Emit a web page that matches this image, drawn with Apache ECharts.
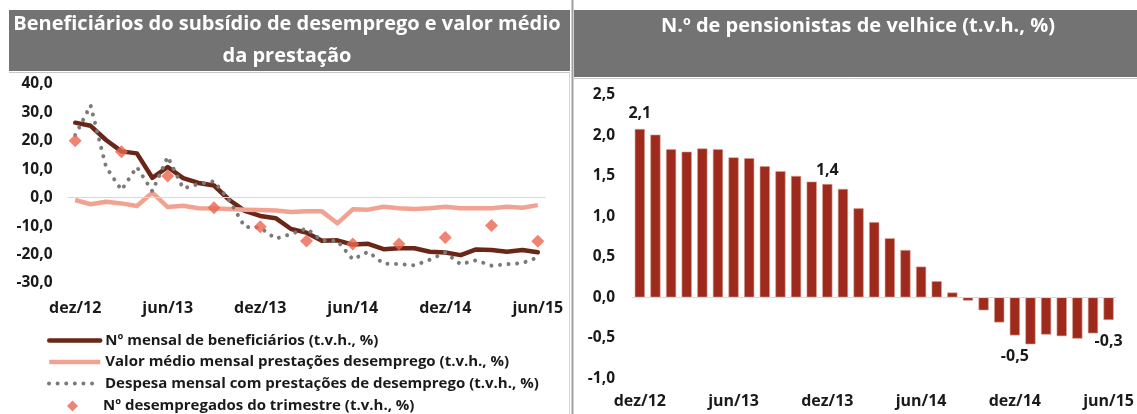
<!DOCTYPE html>
<html>
<head>
<meta charset="utf-8">
<script src="https://cdn.jsdelivr.net/npm/echarts@6/dist/echarts.min.js"></script>
<style>
  html, body { margin: 0; padding: 0; background: #ffffff; }
  #chart { width: 1137px; height: 414px; }
</style>
</head>
<body>
<div id="chart"></div>
<script>
// ---------- DATA ----------
const months = [
  'dez/12','jan/13','fev/13','mar/13','abr/13','mai/13','jun/13','jul/13','ago/13','set/13','out/13','nov/13',
  'dez/13','jan/14','fev/14','mar/14','abr/14','mai/14','jun/14','jul/14','ago/14','set/14','out/14','nov/14',
  'dez/14','jan/15','fev/15','mar/15','abr/15','mai/15','jun/15'
];
const beneficiarios = [
  26.4, 25.3, 20.3, 16.3, 15.6, 7.0, 10.8, 6.9, 5.2, 4.3, -0.8, -4.6,
  -6.4, -7.2, -11.0, -12.3, -15.1, -15.0, -16.5, -16.2, -18.1, -17.8, -17.8, -19.0,
  -19.3, -20.2, -18.2, -18.4, -19.0, -18.4, -19.2
];
const valorMedio = [
  -0.8, -2.3, -1.4, -2.0, -2.9, 1.8, -3.3, -2.8, -3.7, -3.8, -4.0, -4.2,
  -4.3, -4.5, -5.0, -4.8, -4.8, -9.0, -4.1, -4.2, -3.2, -3.7, -4.0, -3.7,
  -3.2, -3.7, -3.7, -3.7, -3.2, -3.5, -2.6
];
const despesa = [
  22.0, 32.5, 10.8, 2.7, 10.8, 2.3, 14.4, 3.3, 4.8, 5.8, -1.0, -10.3,
  -10.5, -14.4, -12.8, -10.8, -15.1, -15.1, -21.7, -19.0, -23.2, -23.3, -23.8, -21.8,
  -19.3, -23.4, -22.0, -23.9, -23.4, -23.0, -21.0
];
const desempregados = [
  20.0, null, null, 16.2, null, null, 7.6, null, null, -3.5, null, null,
  -10.2, null, null, -15.2, null, null, -16.3, null, null, -16.3, null, null,
  -14.0, null, null, -9.8, null, null, -15.3
];
const pensionistas = [
  2.08, 2.01, 1.83, 1.80, 1.84, 1.83, 1.73, 1.72, 1.62, 1.56, 1.50, 1.43,
  1.40, 1.34, 1.10, 0.93, 0.73, 0.585, 0.38, 0.20, 0.06, -0.04, -0.16, -0.31,
  -0.47, -0.58, -0.46, -0.48, -0.51, -0.445, -0.28
];
const labeledBars = [0, 12, 24, 30];

const seriesNames = [
  'Nº mensal de beneficiários (t.v.h., %)',
  'Valor médio mensal prestações desemprego (t.v.h., %)',
  'Despesa mensal com prestações de desemprego (t.v.h., %)',
  'Nº desempregados do trimestre (t.v.h., %)'
];
const leftTitle1 = 'Beneficiários do subsídio de desemprego e valor médio';
const leftTitle2 = 'da prestação';
const rightTitle = 'N.º de pensionistas de velhice (t.v.h., %)';

// ---------- STYLE ----------
const FONT = '"Open Sans", "Noto Sans", sans-serif';
const TXT = '#1a1a1a';
const C_BEN = '#6a2617', C_VAL = '#f2a291', C_DES = '#7a7a7a', C_DMP = '#e8674f', C_BAR = '#9d2a1c';
const fmt = v => v.toFixed(1).replace('.', ',');
const labelDist = {0: 8, 12: 6, 24: 13, 30: 13};

const lineStyles = [
  { color: C_BEN, width: 4.5, cap: 'round', join: 'round' },
  { color: C_VAL, width: 4.5, join: 'round' },
  { color: C_DES, width: 4, type: [0.01, 8.6], cap: 'round' }
];

const barData = pensionistas.map((v, i) => {
  if (labeledBars.indexOf(i) >= 0) {
    return {
      value: v,
      label: {
        show: true,
        position: v >= 0 ? 'top' : 'bottom',
        distance: labelDist[i],
        formatter: p => fmt(p.value),
        fontFamily: FONT, fontWeight: 'bold', fontSize: 16, color: TXT
      }
    };
  }
  return v;
});

const zeroLine = color => ({
  symbol: 'none', silent: true, animation: false,
  label: { show: false },
  lineStyle: { color: color, type: 'solid', width: 1 },
  data: [{ yAxis: 0 }]
});

const legendRowCenters = [340, 361.5, 383, 404];
const legends = seriesNames.map((name, i) => {
  const isScatter = i === 3;
  const h = isScatter ? 11 : 14;
  const w = isScatter ? 11 : 51;
  return {
    orient: 'vertical',
    padding: 0,
    left: isScatter ? 67 : 47,
    top: legendRowCenters[i] - h / 2,
    itemWidth: w, itemHeight: h, itemGap: 0,
    selectedMode: false,
    textStyle: {
      fontFamily: FONT, fontWeight: 'bold', fontSize: 15, color: TXT,
      padding: isScatter ? [0, 0, 0, 20] : 0
    },
    data: [isScatter
      ? { name: name, icon: 'diamond', itemStyle: { color: C_DMP } }
      : { name: name, itemStyle: { opacity: 0 }, lineStyle: lineStyles[i] }]
  };
});

const chart = echarts.init(document.getElementById('chart'), null, { renderer: 'canvas' });

const option = {
  animation: false,
  backgroundColor: '#ffffff',
  textStyle: { fontFamily: FONT },
  graphic: [
    { type: 'rect', shape: { x: 9, y: 10, width: 561, height: 61 }, style: { fill: '#737373' }, z: -1 },
    { type: 'rect', shape: { x: 574, y: 10, width: 563, height: 67 }, style: { fill: '#737373' }, z: -1 },
    { type: 'line', shape: { x1: 9, y1: 72.5, x2: 569, y2: 72.5 }, style: { stroke: '#c8c8c8', lineWidth: 1 } },
    { type: 'line', shape: { x1: 574, y1: 78.5, x2: 1137, y2: 78.5 }, style: { stroke: '#c8c8c8', lineWidth: 1 } },
    { type: 'line', shape: { x1: 569.5, y1: 72, x2: 569.5, y2: 414 }, style: { stroke: '#d4d4d4', lineWidth: 1 } },
    { type: 'line', shape: { x1: 572.5, y1: 0, x2: 572.5, y2: 414 }, style: { stroke: '#a0a0a0', lineWidth: 2 } },
    { type: 'text', x: 287, y: 24, style: { text: leftTitle1, fill: '#ffffff', font: 'bold 20px ' + FONT, align: 'center', verticalAlign: 'middle' } },
    { type: 'text', x: 287, y: 56, style: { text: leftTitle2, fill: '#ffffff', font: 'bold 20px ' + FONT, align: 'center', verticalAlign: 'middle' } },
    { type: 'text', x: 858, y: 26, style: { text: rightTitle, fill: '#ffffff', font: 'bold 20px ' + FONT, align: 'center', verticalAlign: 'middle' } }
  ],
  legend: legends,
  grid: [
    { left: 67.5, right: 591.5, top: 84, bottom: 131 },
    { left: 632, right: 20.5, top: 95, bottom: 35.7 }
  ],
  xAxis: [
    {
      gridIndex: 0, type: 'category', data: months, boundaryGap: true,
      axisLine: { show: false }, axisTick: { show: false },
      axisLabel: { interval: 5, margin: 17, fontFamily: FONT, fontWeight: 'bold', fontSize: 16, color: TXT }
    },
    {
      gridIndex: 1, type: 'category', data: months, boundaryGap: true,
      axisLine: { show: false }, axisTick: { show: false },
      axisLabel: { interval: 5, margin: 15, fontFamily: FONT, fontWeight: 'bold', fontSize: 16, color: TXT }
    }
  ],
  yAxis: [
    {
      gridIndex: 0, type: 'value', min: -30, max: 40, interval: 10,
      axisLine: { show: false }, axisTick: { show: false }, splitLine: { show: false },
      axisLabel: { margin: 15, formatter: v => fmt(v), fontFamily: FONT, fontWeight: 'bold', fontSize: 15.5, color: TXT }
    },
    {
      gridIndex: 1, type: 'value', min: -1, max: 2.5, interval: 0.5,
      axisLine: { show: false }, axisTick: { show: false }, splitLine: { show: false },
      axisLabel: { margin: 17, formatter: v => fmt(v), fontFamily: FONT, fontWeight: 'bold', fontSize: 15.5, color: TXT }
    }
  ],
  series: [
    {
      name: seriesNames[0], type: 'line', xAxisIndex: 0, yAxisIndex: 0,
      data: beneficiarios, symbol: 'none', z: 3,
      lineStyle: lineStyles[0], itemStyle: { color: C_BEN },
      markLine: zeroLine('#d9d9d9')
    },
    {
      name: seriesNames[1], type: 'line', xAxisIndex: 0, yAxisIndex: 0,
      data: valorMedio, symbol: 'none', z: 3,
      lineStyle: lineStyles[1], itemStyle: { color: C_VAL }
    },
    {
      name: seriesNames[2], type: 'line', xAxisIndex: 0, yAxisIndex: 0,
      data: despesa, symbol: 'none', z: 4,
      lineStyle: lineStyles[2], itemStyle: { color: C_DES }
    },
    {
      name: seriesNames[3], type: 'scatter', xAxisIndex: 0, yAxisIndex: 0,
      data: desempregados, symbol: 'diamond', symbolSize: 13, z: 5,
      itemStyle: { color: C_DMP }
    },
    {
      name: 'pensionistas', type: 'bar', xAxisIndex: 1, yAxisIndex: 1,
      data: barData, barCategoryGap: '35%',
      itemStyle: { color: C_BAR, borderColor: '#d9a193', borderWidth: 0.6 },
      markLine: zeroLine('#d9d9d9')
    }
  ]
};
chart.setOption(option);
</script>
</body>
</html>
